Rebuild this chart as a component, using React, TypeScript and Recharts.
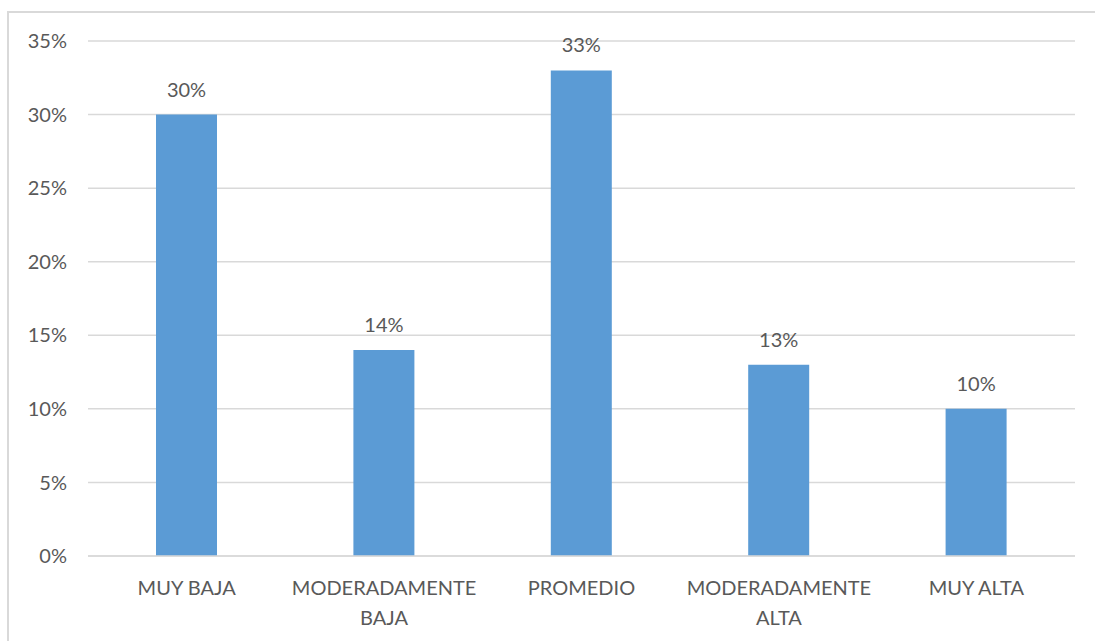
import React from 'react';
import { BarChart, Bar, XAxis, YAxis, CartesianGrid, LabelList } from 'recharts';

const categories = ['MUY BAJA', 'MODERADAMENTE BAJA', 'PROMEDIO', 'MODERADAMENTE ALTA', 'MUY ALTA'];
const tickLines: string[][] = [['MUY BAJA'], ['MODERADAMENTE', 'BAJA'], ['PROMEDIO'], ['MODERADAMENTE', 'ALTA'], ['MUY ALTA']];
const values = [30, 14, 33, 13, 10];
const yTicks = [0, 5, 10, 15, 20, 25, 30, 35];

const data = categories.map((c, i) => ({ name: c, value: values[i] }));

const FONT = 'Lato, "Open Sans", sans-serif';
const TEXT = '#595959';

const XTick = (props: any) => {
  const { x, y, payload } = props;
  const idx = categories.indexOf(payload.value);
  const lines = idx >= 0 ? tickLines[idx] : [payload.value];
  return (
    <g>
      {lines.map((l, i) => (
        <text key={i} x={x} y={y + i * 30} textAnchor="middle" fill={TEXT} fontSize={20} fontFamily={FONT} dominantBaseline="central">
          {l}
        </text>
      ))}
    </g>
  );
};

export default function App() {
  return (
    <div style={{ position: 'absolute', left: 0, top: 0, width: 1095, height: 641, background: '#fff', overflow: 'hidden' }}>
      <div style={{ position: 'absolute', left: 7, top: 11, width: 1120, height: 660, border: '2px solid #d9d9d9', boxSizing: 'border-box' }} />
      <div style={{ position: 'absolute', left: 0, top: 0 }}>
        <BarChart width={1095} height={641} data={data} margin={{ top: 41, right: 20, bottom: 55, left: 0 }} barSize={61}>
          <CartesianGrid vertical={false} stroke="#d9d9d9" strokeWidth={1.5} />
          <XAxis dataKey="name" height={30} axisLine={{ stroke: '#d9d9d9', strokeWidth: 1.5 }} tickLine={false} tickSize={0} interval={0} tick={<XTick />} tickMargin={31} />
          <YAxis
            width={88}
            domain={[0, 35]}
            ticks={yTicks}
            axisLine={false}
            tickLine={false}
            tickSize={0}
            tickMargin={21}
            tickFormatter={(v: number) => `${v}%`}
            tick={{ fill: TEXT, fontSize: 20, fontFamily: FONT }}
          />
          <Bar dataKey="value" fill="#5b9bd5" isAnimationActive={false}>
            <LabelList dataKey="value" position="top" offset={18} formatter={(v: any) => `${v}%`} fill={TEXT} fontSize={20} fontFamily={FONT} />
          </Bar>
        </BarChart>
      </div>
    </div>
  );
}
